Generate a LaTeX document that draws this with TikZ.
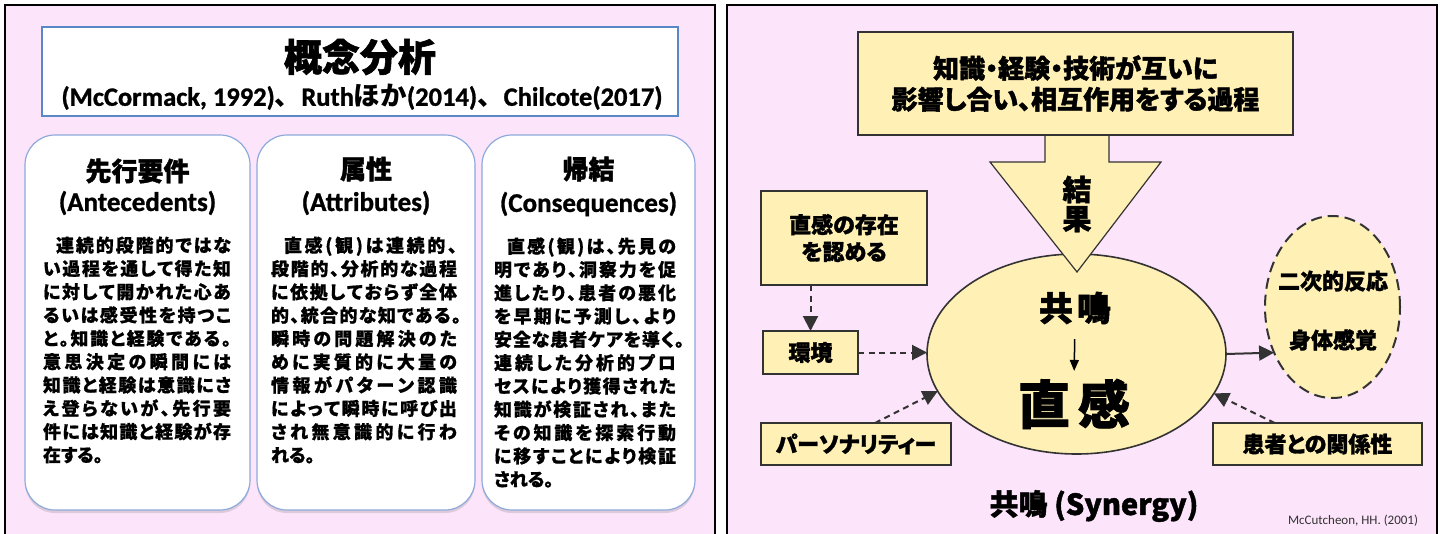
\documentclass[tikz,border=0pt]{standalone}
\usepackage{fontspec}
\setmainfont{Carlito}
\newfontfamily\jp{Noto Sans CJK JP}[RawFeature=+palt]
\newfontfamily\jph{Noto Sans CJK JP}[RawFeature=+palt, FakeBold=1.5]
\newfontfamily\jpb{Noto Sans CJK JP}[RawFeature=+palt, FakeBold=0.8]
\newfontfamily\jpn{Noto Sans CJK JP}
\newfontfamily\lat{Carlito}
\newfontfamily\latb{Carlito}[FakeBold=1]
\usetikzlibrary{calc,arrows.meta,shapes.geometric,shadows}
\definecolor{pinkbg}{HTML}{FCE4FA}
\definecolor{yel}{HTML}{FFF1B5}
\definecolor{dgray}{HTML}{333333}
\definecolor{titleblue}{HTML}{5A87C5}
\definecolor{rboxblue}{HTML}{8EAADB}
\newcommand\fs[2]{\fontsize{#1}{#2}\selectfont}
% spread a line of characters to a given width
\newcommand\spl[2]{\hbox to #1{\hskip 0pt plus -1fil\splx#2\relax}}
\newcommand\spli[2]{\hbox to #1{\hskip 13pt plus -1fil\splx#2\relax}}
\def\splx#1{\ifx\relax#1\else\hfil#1\expandafter\splx\fi}
\begin{document}
\begin{tikzpicture}[x=1pt,y=-1pt,
  every node/.style={inner sep=0pt, outer sep=0pt},
  panel/.style={draw=black, line width=1.6pt, fill=pinkbg},
  rbox/.style={draw=rboxblue, line width=1.2pt, fill=white, rounded corners=30pt,
    drop shadow={shadow xshift=0pt, shadow yshift=-3pt, opacity=0.25}},
  ybox/.style={draw=dgray, line width=2pt, fill=yel, font=\jph\bfseries\fs{22}{27}, align=center},
  headjp/.style={font=\jph\bfseries\fs{26}{30}},
  headlat/.style={font=\latb\bfseries\fs{27}{30}},
  body/.style={font=\jpb\bfseries\fs{18}{23.3}, align=left},
  rtxt/.style={font=\jph\bfseries\fs{22}{27}},
  dashar/.style={draw=dgray, line width=2pt, dash pattern=on 6pt off 4.5pt,
    -{Triangle[length=15pt,width=15pt]}},
  solidar/.style={draw=dgray, line width=2pt, -{Triangle[length=15pt,width=15pt]}},
  smallar/.style={draw=black, line width=1.5pt, -{Triangle[length=11pt,width=9pt]}}
]
\useasboundingbox (0,0) rectangle (1443,533);
\clip (0,0) rectangle (1443,533);
\fill[white] (0,0) rectangle (1443,533);

% ---------- left panel ----------
\path[panel] (5,5) rectangle (715,550);
\node[draw=titleblue, line width=1.8pt, fill=white, minimum width=636, minimum height=89] (title) at (360,71.5) {};
\node[font=\jph\bfseries\fs{38}{42}] (ttl) at (360,57) {概念分析};
\node[font=\latb\bfseries\fs{26.5}{30}] (sub) at (362,97) {(McCormack, 1992){\jpn\bfseries 、}Ruth{\jpn\bfseries ほか}(2014){\jpn\bfseries 、}Chilcote(2017)};

\node[rbox, minimum width=225, minimum height=375] (b1) at (137.5,322.5) {};
\node[rbox, minimum width=218, minimum height=375] (b2) at (366,322.5) {};
\node[rbox, minimum width=213, minimum height=375] (b3) at (588.5,322.5) {};

\node[headjp] (h1) at (137.5,171) {先行要件};
\node[headlat] (e1) at (137.5,203) {(Antecedents)};
\node[headjp] (h2) at (366,169) {属性};
\node[headlat] (e2) at (366,203) {(Attributes)};
\node[headjp] (h3) at (588.5,169) {帰結};
\node[headlat] (e3) at (588.5,204) {(Consequences)};

\node[body] (t1) at (137,350) {%
\spli{188pt}{連続的段階的ではな}\\
\spl{188pt}{い過程を通して得た知}\\
\spl{188pt}{に対して開かれた心あ}\\
\spl{188pt}{るいは感受性を持つこ}\\
\spl{188pt}{と。知識と経験である。}\\
\spl{188pt}{意思決定の瞬間には}\\
\spl{188pt}{知識と経験は意識にさ}\\
\spl{188pt}{え登らないが、先行要}\\
\spl{188pt}{件には知識と経験が存}\\
在する。};

\node[body] (t2) at (366,350) {%
\spli{186pt}{直感(観)は連続的、}\\
\spl{186pt}{段階的、分析的な過程}\\
\spl{186pt}{に依拠しておらず全体}\\
\spl{190pt}{的、統合的な知である。}\\
\spl{186pt}{瞬時の問題解決のた}\\
\spl{186pt}{めに実質的に大量の}\\
\spl{186pt}{情報がパターン認識}\\
\spl{186pt}{によって瞬時に呼び出}\\
\spl{186pt}{され無意識的に行わ}\\
れる。\hfill\null};

\node[body] (t3) at (589,362.5) {%
\spli{182pt}{直感(観)は、先見の}\\
\spl{182pt}{明であり、洞察力を促}\\
\spl{182pt}{進したり、患者の悪化}\\
\spl{182pt}{を早期に予測し、より}\\
\spl{190pt}{安全な患者ケアを導く。}\\
\spl{182pt}{連続した分析的プロ}\\
\spl{182pt}{セスにより獲得された}\\
\spl{182pt}{知識が検証され、また}\\
\spl{182pt}{その知識を探索行動}\\
\spl{182pt}{に移すことにより検証}\\
される。};

% ---------- right panel ----------
\path[panel] (727,5) rectangle (1437,550);

\node[draw=dgray, line width=1.6pt, fill=yel, shape=ellipse, minimum width=299, minimum height=200] (ell) at (1076.5,354) {};

% big block arrow
\fill[yel] (1045,133) -- (1045,162) -- (990,162) -- (1077,272) -- (1161,162) -- (1109,162) -- (1109,133) -- cycle;
\draw[dgray, line width=1.2pt, line join=miter] (1045,135) -- (1045,162) -- (990,162) -- (1077,272) -- (1161,162) -- (1109,162) -- (1109,135);

\node[ybox, font=\jph\bfseries\fs{26}{31}, minimum width=435, minimum height=103] (top) at (1075.5,83.5) {知識・経験・技術が互いに\\影響し合い、相互作用をする過程};
\node[font=\jph\bfseries\fs{29}{29}, align=center] (kekka) at (1077,204) {結\\果};

\node[ybox, minimum width=166, minimum height=94] (kanjo) at (844,238) {直感の存在\\を認める};
\node[ybox, minimum width=95, minimum height=43] (kankyo) at (810.5,352.5) {環境};
\node[ybox, minimum width=190, minimum height=42] (pers) at (856,444) {パーソナリティー};
\node[ybox, minimum width=209, minimum height=42] (pat) at (1317.5,444) {患者との関係性};

\node[draw=dgray, line width=2pt, dash pattern=on 11pt off 6pt, fill=yel, shape=ellipse, minimum width=135, minimum height=182] (react) at (1332.5,307) {};
\node[rtxt] (r1) at (1333,281) {二次的反応};
\node[rtxt] (r2) at (1333,340) {身体感覚};

\node[font=\jph\bfseries\fs{34}{38}] (kyo) at (1075,308) {共\hspace{4pt}鳴};
\node[font=\jph\bfseries\fs{52}{56}] (cho) at (1074,404) {直\hspace{8pt}感};
\draw[smallar, shorten <=15pt, shorten >=8pt] (kyo.south) -- (cho.north);

\draw[dashar] (kanjo.south -| kankyo.north) -- (kankyo.north);
\draw[dashar] (kankyo.east) -- (kankyo.east -| ell.west);
\draw[dashar] ($(pers.north)!0.2!(pers.north east)$) -- (ell.195);
\draw[dashar] ($(pat.north)!0.41!(pat.north west)$) -- (ell.-16);
\draw[solidar] (ell.east) -- (react.218);

\node[font=\jph\bfseries\fs{29}{34}] (syn) at (1094,506) {共鳴 (Synergy)};
\node[font=\lat\fs{13}{15}, text=dgray, anchor=east] (ref) at (1418,521) {McCutcheon, HH. (2001)};
\end{tikzpicture}
\end{document}
